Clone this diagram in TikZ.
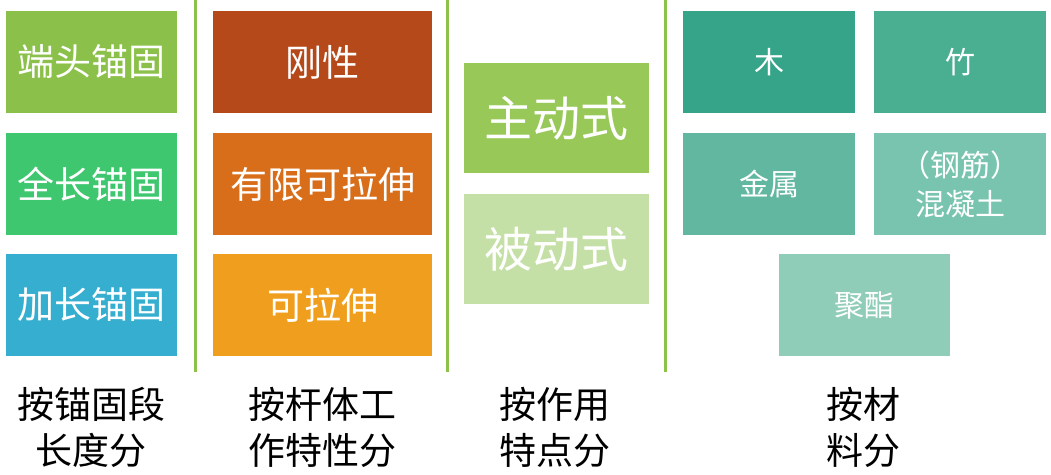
\documentclass[tikz,border=0pt]{standalone}
\usepackage{fontspec}
\setmainfont{Noto Sans CJK SC}
\definecolor{cA}{RGB}{139,193,74}
\definecolor{cB}{RGB}{62,199,110}
\definecolor{cC}{RGB}{53,174,207}
\definecolor{cD}{RGB}{182,73,25}
\definecolor{cE}{RGB}{216,110,25}
\definecolor{cF}{RGB}{240,158,30}
\definecolor{cG}{RGB}{152,200,88}
\definecolor{cH}{RGB}{197,224,166}
\definecolor{cI}{RGB}{53,164,136}
\definecolor{cJ}{RGB}{74,174,145}
\definecolor{cK}{RGB}{97,183,160}
\definecolor{cL}{RGB}{120,196,175}
\definecolor{cM}{RGB}{144,205,185}
\definecolor{sep}{RGB}{140,194,74}
\tikzset{
  box/.style={inner sep=0pt, text=white, align=center, font=\fontsize{37}{44}\selectfont},
  bigbox/.style={box, font=\fontsize{48}{56}\selectfont},
  smallbox/.style={box, font=\fontsize{30}{39}\selectfont},
  lab/.style={inner sep=0pt, text=black, align=center, font=\fontsize{37}{46}\selectfont},
  divider/.style={draw=sep, line width=3pt}
}
\begin{document}
\begin{tikzpicture}[x=1pt,y=-1pt]
\useasboundingbox (0,0) rectangle (1051,474);
% column 1
\node[box, fill=cA, minimum width=171pt, minimum height=102pt] (a1) at (91.5,62) {端头锚固};
\node[box, fill=cB, minimum width=171pt, minimum height=102pt] (a2) at (91.5,184) {全长锚固};
\node[box, fill=cC, minimum width=171pt, minimum height=102pt] (a3) at (91.5,305) {加长锚固};
% column 2
\node[box, fill=cD, minimum width=219pt, minimum height=102pt] (b1) at (322.5,62) {刚性};
\node[box, fill=cE, minimum width=219pt, minimum height=102pt] (b2) at (322.5,184) {有限可拉伸};
\node[box, fill=cF, minimum width=219pt, minimum height=102pt] (b3) at (322.5,305) {可拉伸};
% column 3
\node[bigbox, fill=cG, minimum width=185pt, minimum height=110pt] (c1) at (556.5,118) {主动式};
\node[bigbox, fill=cH, minimum width=185pt, minimum height=110pt] (c2) at (556.5,249) {被动式};
% column 4
\node[smallbox, fill=cI, minimum width=172pt, minimum height=102pt] (d1) at (769,62) {木};
\node[smallbox, fill=cJ, minimum width=172pt, minimum height=102pt] (d2) at (960,62) {竹};
\node[smallbox, fill=cK, minimum width=172pt, minimum height=102pt] (d3) at (769,184) {金属};
\node[smallbox, fill=cL, minimum width=172pt, minimum height=102pt] (d4) at (960,184) {（钢筋）\\混凝土};
\node[smallbox, fill=cM, minimum width=171pt, minimum height=102pt] (d5) at (864,305) {聚酯};
% dividers
\coordinate (s1t) at (195,0); \coordinate (s1b) at (195,372);
\coordinate (s2t) at (447,0); \coordinate (s2b) at (447,372);
\coordinate (s3t) at (665,0); \coordinate (s3b) at (665,372);
\draw[divider] (s1t) -- (s1b);
\draw[divider] (s2t) -- (s2b);
\draw[divider] (s3t) -- (s3b);
% labels
\node[lab] (l1) at (91,427) {按锚固段\\长度分};
\node[lab] (l2) at (322,427) {按杆体工\\作特性分};
\node[lab] (l3) at (555,427) {按作用\\特点分};
\node[lab] (l4) at (863,427) {按材\\料分};
\end{tikzpicture}
\end{document}
